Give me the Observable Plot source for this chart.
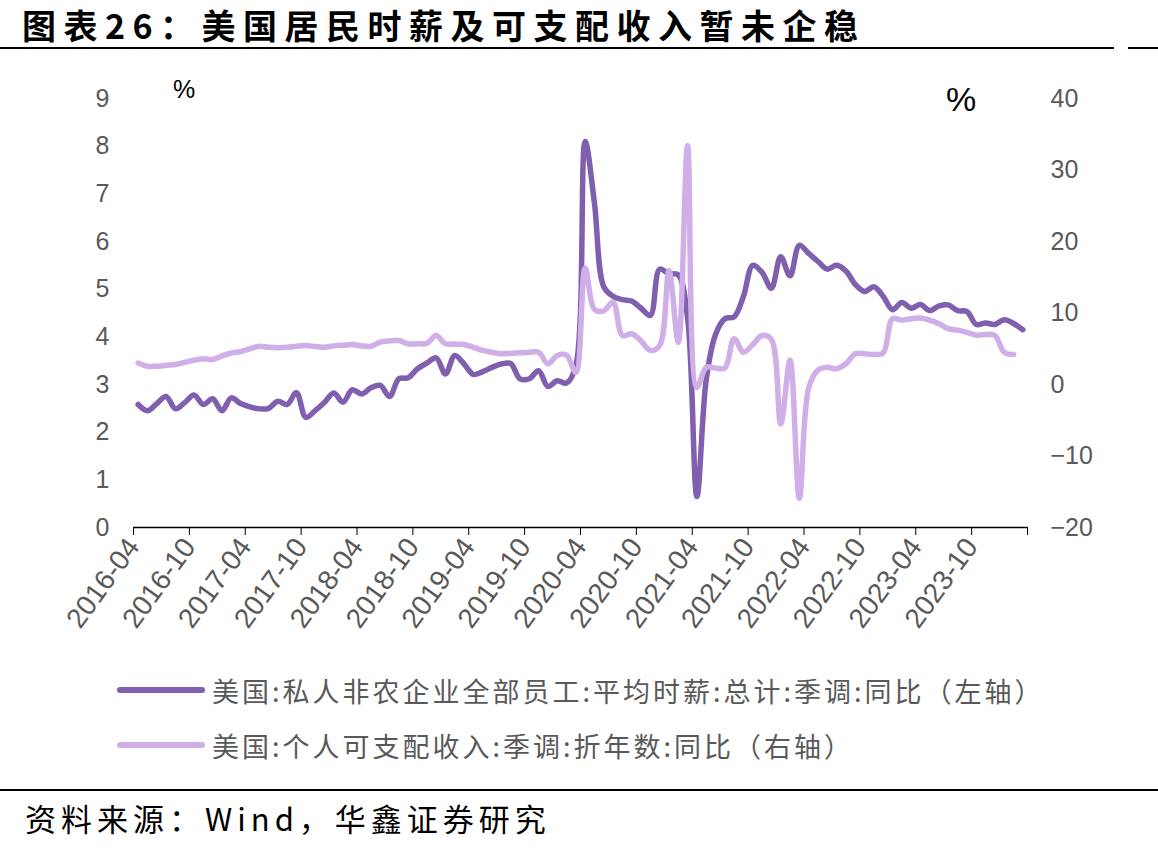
<!DOCTYPE html>
<html><head><meta charset="utf-8">
<script src="https://cdn.jsdelivr.net/npm/d3@7"></script>
<script src="https://cdn.jsdelivr.net/npm/@observablehq/plot@0.6"></script>
<style>
body{margin:0;background:#fff;}
#wrap{position:relative;width:1158px;height:851px;overflow:hidden;font-family:"Noto Sans CJK SC","Noto Sans",sans-serif;background:#fff;}
.title{position:absolute;left:22px;top:0px;line-height:normal;font-size:34px;font-weight:bold;letter-spacing:7.5px;color:#000;white-space:nowrap;}
.hline{position:absolute;height:2px;background:#000;}
#chart{position:absolute;left:0;top:60px;}
.pct{position:absolute;color:#000;font-family:"Liberation Sans",Arial,sans-serif;line-height:1;}
.leg{position:absolute;left:117px;height:30px;display:flex;align-items:center;font-size:27px;letter-spacing:3px;color:#595959;white-space:nowrap;}
.sw{display:inline-block;width:88px;height:6px;border-radius:3px;margin-right:7px;}
.src{position:absolute;left:25px;top:798px;height:40px;line-height:40px;font-size:31px;letter-spacing:5px;color:#000;white-space:nowrap;}
</style></head>
<body>
<div id="wrap">
  <div class="title">图表26：美国居民时薪及可支配收入暂未企稳</div>
  <div class="hline" style="left:0;top:47px;width:1114px;"></div>
  <div class="hline" style="left:1128px;top:47px;width:30px;"></div>
  <div id="chart"></div>
  <div class="pct" style="left:173px;top:77px;font-size:25px;">%</div>
  <div class="pct" style="left:946px;top:82px;font-size:34px;">%</div>
  <div class="leg" style="top:675px;"><span class="sw" id="sw1"></span><span id="l1"></span></div>
  <div class="leg" style="top:730px;"><span class="sw" id="sw2"></span><span id="l2"></span></div>
  <div class="hline" style="left:0;top:789px;width:1158px;"></div>
  <div class="src">资料来源：Wind，华鑫证券研究</div>
</div>
<script>
// ---- data ----
const seriesNames = ["美国:私人非农企业全部员工:平均时薪:总计:季调:同比（左轴）", "美国:个人可支配收入:季调:折年数:同比（右轴）"];
const seriesColors = ["#7F5FAE", "#D0AEE7"];
// monthly, starting 2016-04 (index 0) ; wage to 2024-03, income to 2024-02
const wage = [2.58,2.45,2.6,2.75,2.49,2.62,2.78,2.58,2.7,2.45,2.72,2.6,2.53,2.49,2.5,2.65,2.58,2.83,2.31,2.45,
  2.62,2.82,2.63,2.89,2.8,2.93,2.98,2.75,3.12,3.14,3.33,3.45,3.56,3.22,3.61,3.43,3.21,3.27,3.36,3.43,
  3.44,3.12,3.12,3.29,2.96,3.08,3.03,3.4,8.1,6.8,5.05,4.85,4.78,4.75,4.6,4.45,5.42,5.32,5.3,4.4,
  0.65,3.1,4.05,4.38,4.42,4.85,5.5,5.35,5.02,5.68,5.28,5.92,5.75,5.58,5.42,5.5,5.38,5.1,4.95,5.05,
  4.85,4.57,4.72,4.6,4.68,4.55,4.65,4.67,4.55,4.53,4.26,4.29,4.26,4.36,4.28,4.15];
const income = [3.0,2.55,2.55,2.7,2.8,3.1,3.4,3.6,3.5,4.0,4.4,4.6,5.0,5.36,5.2,5.15,5.2,5.35,5.45,5.3,
  5.22,5.4,5.5,5.59,5.4,5.36,5.92,6.1,6.15,5.69,5.7,5.75,6.85,5.69,5.65,5.59,5.2,4.76,4.5,4.3,
  4.35,4.43,4.5,4.5,2.9,4.06,4.1,1.7,16.3,10.5,10.3,11.5,6.85,7.1,6.1,4.76,5.45,15.9,5.9,33.4,
  -0.4,2.4,2.3,2.3,6.4,4.5,5.6,6.85,6.3,-5.5,3.4,-15.9,-0.5,2.0,2.4,2.2,2.9,4.3,4.3,4.2,
  4.4,9.2,9.0,9.2,9.3,9.0,8.5,7.8,7.6,7.3,6.9,7.0,6.85,4.5,4.2];
const tickLabels = ["2016-04","2016-10","2017-04","2017-10","2018-04","2018-10","2019-04","2019-10",
  "2020-04","2020-10","2021-04","2021-10","2022-04","2022-10","2023-04","2023-10",""];
const leftTicks = [0,1,2,3,4,5,6,7,8,9];
const rightTicks = [-20,-10,0,10,20,30,40];

// ---- build ----
const rMin = -20, rMax = 40, lMax = 9;
const toLeft = v => (v - rMin) * lMax / (rMax - rMin);
const fromLeft = d => Math.round(d * (rMax - rMin) / lMax + rMin);
const wageData = wage.map((v, i) => ({i, v}));
const incomeData = income.map((v, i) => ({i, v}));
const tickPos = tickLabels.map((_, k) => -0.5 + 6 * k);
const fmtSigned = n => (n < 0 ? "\u2212" + Math.abs(n) : String(n));

const chart = Plot.plot({
  width: 1158, height: 600,
  marginLeft: 133, marginRight: 131, marginTop: 38, marginBottom: 133,
  x: {domain: [-0.5, 95.5]},
  y: {domain: [0, 9]},
  style: {fontFamily: "'Liberation Sans', Arial, sans-serif", fontSize: "25px", color: "#595959", background: "transparent", overflow: "visible"},
  marks: [
    Plot.axisY(leftTicks, {anchor: "left", tickSize: 0, tickPadding: 24, fill: "#595959", label: null, fontSize: 25}),
    Plot.axisY(rightTicks.map(toLeft), {anchor: "right", tickSize: 0, tickPadding: 23, fill: "#595959", label: null, fontSize: 25, tickFormat: d => fmtSigned(fromLeft(d))}),
    Plot.axisX(tickPos, {anchor: "bottom", tickSize: 8, stroke: "#000", fill: "#595959", tickRotate: -54, tickPadding: 6, label: null, fontSize: 28,
      tickFormat: d => tickLabels[Math.round((d + 0.5) / 6)]}),
    Plot.ruleY([0], {stroke: "#000", strokeWidth: 1.5}),
    Plot.line(wageData, {x: "i", y: "v", stroke: seriesColors[0], strokeWidth: 5.5, curve: "catmull-rom", strokeLinecap: "round", strokeLinejoin: "round"}),
    Plot.line(incomeData, {x: "i", y: d => toLeft(d.v), stroke: seriesColors[1], strokeWidth: 5.5, curve: "catmull-rom", strokeLinecap: "round", strokeLinejoin: "round"})
  ]
});
document.getElementById("chart").appendChild(chart);
document.getElementById("sw1").style.background = seriesColors[0];
document.getElementById("sw2").style.background = seriesColors[1];
document.getElementById("l1").textContent = seriesNames[0];
document.getElementById("l2").textContent = seriesNames[1];
</script>
</body></html>
